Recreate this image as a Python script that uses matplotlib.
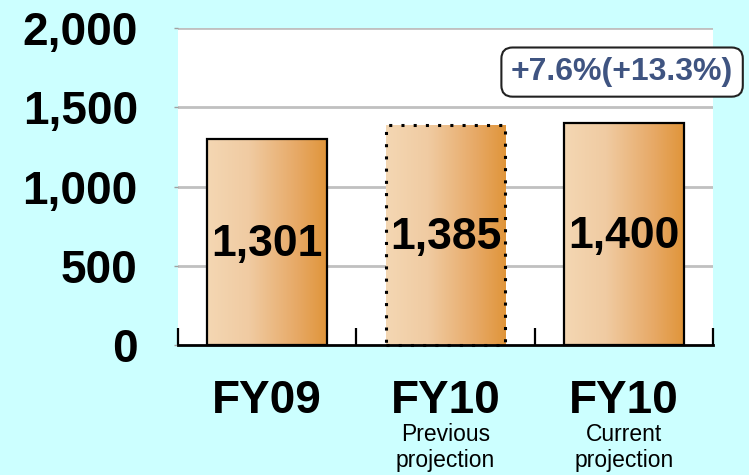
import numpy as np
import matplotlib
matplotlib.use('Agg')
import matplotlib.pyplot as plt
from matplotlib.colors import LinearSegmentedColormap
from matplotlib.patches import Rectangle
from matplotlib.transforms import blended_transform_factory

categories = ["FY09", "FY10", "FY10"]
subtitles = ["", "Previous\nprojection", "Current\nprojection"]
values = [1301, 1385, 1400]
value_labels = ["1,301", "1,385", "1,400"]
yticks = [0, 500, 1000, 1500, 2000]
ytick_labels = ["0", "500", "1,000", "1,500", "2,000"]
growth_note = "+7.6%(+13.3%)"

plt.rcParams['font.family'] = ['Liberation Sans', 'DejaVu Sans']

bg = "#CCFFFF"
fig = plt.figure(figsize=(7.49, 4.75), dpi=100, facecolor=bg)
ax = fig.add_axes([0.2377, 0.2737, 0.7143, 0.6673])
ax.set_facecolor("white")

# grid
for y in yticks[1:]:
    ax.axhline(y, color="#C0C0C0", lw=2, zorder=1)

grad = LinearSegmentedColormap.from_list(
    "bar", [(0, "#F4D7B3"), (0.35, "#F0CBA2"), (0.75, "#E7A966"), (1, "#E0953A")])
g = np.linspace(0, 1, 256).reshape(1, -1)

width = 0.67
for i, v in enumerate(values):
    x0 = i - width / 2
    dotted = i == 1
    rect = Rectangle((x0, 0), width, v, facecolor="none",
                     edgecolor="black", lw=2.2 if dotted else 1.6,
                     linestyle=(0, (1, 3)) if dotted else "-", zorder=4,
                     clip_on=False)
    ax.add_patch(rect)
    im = ax.imshow(g, cmap=grad, aspect="auto", extent=(x0, x0 + width, 0, v),
                   zorder=3, interpolation="bilinear")
    clip = Rectangle((x0, 0), width, v, transform=ax.transData)
    im.set_clip_path(clip)
    ax.text(i, v / 2 - 15, value_labels[i], ha="center", va="center",
            fontsize=32, fontweight="bold", zorder=5)

ax.set_xlim(-0.5, 2.5)
ax.set_ylim(0, 2000)

for s in ["top", "right", "left"]:
    ax.spines[s].set_visible(False)
ax.spines["bottom"].set_linewidth(2)
ax.spines["bottom"].set_zorder(6)

ax.set_xticks([])
ax.set_xticks([-0.5, 0.5, 1.5, 2.5], minor=True)
ax.tick_params(axis="x", which="minor", direction="in", length=12, width=1.6,
               color="black")
ax.set_yticks(yticks)
ax.set_yticklabels(ytick_labels, fontsize=33, fontweight="bold")
ax.tick_params(axis="y", length=3, width=1, color="#A0A0A0", pad=26)

trans = blended_transform_factory(ax.transData, fig.transFigure)
for i, c in enumerate(categories):
    ax.text(i, 0.155, c, transform=trans, ha="center", va="center",
            fontsize=33, fontweight="bold")
    if subtitles[i]:
        ax.text(i, 0.058, subtitles[i], transform=trans, ha="center",
                va="center", fontsize=16.5, linespacing=1.15)

ax.text(1.99, 1722, growth_note, ha="center", va="center", fontsize=23,
        fontweight="bold", color="#3F5481", clip_on=False, zorder=7,
        bbox=dict(boxstyle="round,pad=0.3,rounding_size=0.35",
                  facecolor="white", edgecolor="#222222", lw=1.5))

fig.savefig("out.png", dpi=100, facecolor=bg)
